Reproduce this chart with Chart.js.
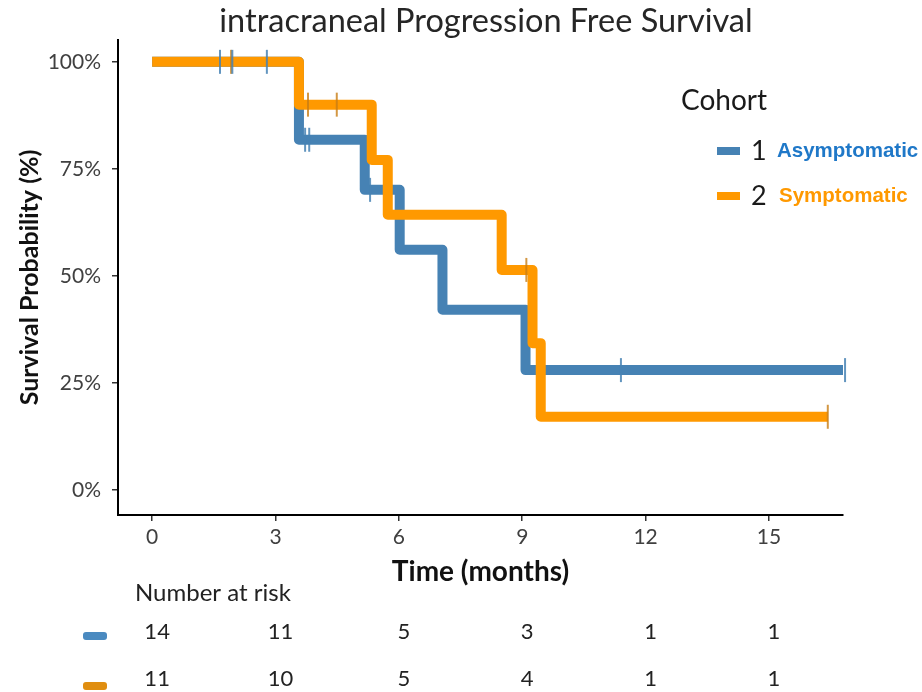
<!DOCTYPE html>
<html><head><meta charset="utf-8">
<script src="https://cdn.jsdelivr.net/npm/chart.js@4.4.1/dist/chart.umd.min.js"></script>
<style>html,body{margin:0;padding:0;background:#fff;}</style>
</head><body>
<canvas id="c" width="922" height="692"></canvas>
<script>
// ---- data ----
const titleText = 'intracraneal Progression Free Survival';
const timeTicks = [0, 3, 6, 9, 12, 15];
const survTicks = [0, 25, 50, 75, 100];
const cohortIds = ['1', '2'];
const cohortNames = ['Asymptomatic', 'Symptomatic'];
const asymTimes = [0, 3.57, 5.17, 6.02, 7.06, 9.08, 16.8];
const asymSurv  = [100, 81.8, 70.1, 56.1, 42.1, 28.0, 28.0];
const symTimes  = [0, 3.57, 5.34, 5.73, 8.5, 9.25, 9.45, 16.43];
const symSurv   = [100, 90.0, 77.1, 64.3, 51.4, 34.3, 17.1, 17.1];
const asymCensorTimes = [1.65, 1.95, 2.79, 3.72, 3.82, 5.3, 11.4, 16.85];
const asymCensorSurv  = [100, 100, 100, 81.8, 81.8, 70.1, 28.0, 28.0];
const symCensorTimes  = [1.92, 3.79, 4.49, 9.1, 16.43];
const symCensorSurv   = [100, 90.0, 90.0, 51.4, 17.1];
const atRiskAsym = [14, 11, 5, 3, 1, 1];
const atRiskSym  = [11, 10, 5, 4, 1, 1];

const BLUE = '#4682b4', ORANGE = '#ff9900';
const pts = (xs, ys) => xs.map((t, i) => ({x: t, y: ys[i]}));

const annot = {
  id: 'annot',
  afterDraw(chart) {
    const ctx = chart.ctx, xs = chart.scales.x;
    ctx.save();
    // title
    ctx.fillStyle = '#262626';
    ctx.font = '32.5px Lato';
    ctx.textAlign = 'center'; ctx.textBaseline = 'middle';
    ctx.fillText(titleText, 486, 22);
    // legend
    ctx.textAlign = 'left';
    ctx.fillStyle = '#1a1a1a';
    ctx.font = '28px Lato';
    ctx.fillText('Cohort', 681, 101);
    const legY = [151, 196];
    const legCol = [BLUE, ORANGE];
    const nameCol = ['#1f78c8', '#ff9900'];
    for (let i = 0; i < 2; i++) {
      ctx.fillStyle = legCol[i];
      ctx.fillRect(717, legY[i] - 4, 23, 8);
      ctx.fillStyle = '#1a1a1a';
      ctx.font = '27px Lato';
      ctx.fillText(cohortIds[i], 751, legY[i]);
      ctx.fillStyle = nameCol[i];
      ctx.font = 'bold 20.5px "Liberation Sans"';
      ctx.fillText(cohortNames[i], i === 0 ? 777 : 779, legY[i]);
    }
    // risk table
    ctx.fillStyle = '#222';
    ctx.font = '24px Lato';
    ctx.fillText('Number at risk', 135, 593);
    const rows = [atRiskAsym, atRiskSym];
    const rowY = [632, 679];
    const swY = [636, 686];
    const swCol = ['#4a8ac0', '#e08e10'];
    ctx.textAlign = 'center';
    ctx.font = '22px Lato';
    for (let r = 0; r < 2; r++) {
      ctx.fillStyle = swCol[r];
      ctx.beginPath();
      ctx.roundRect(83, swY[r] - 4, 24, 8, 3);
      ctx.fill();
      ctx.fillStyle = '#222';
      rows[r].forEach((n, i) => {
        ctx.fillText(String(n), xs.getPixelForValue(timeTicks[i]) + 5, rowY[r]);
      });
    }
    ctx.restore();
  }
};

new Chart(document.getElementById('c'), {
  type: 'line',
  data: {
    datasets: [
      {label: 'c1', data: pts(asymCensorTimes, asymCensorSurv), showLine: false,
       pointStyle: 'line', pointRadius: 12, pointRotation: 90, pointBorderWidth: 2,
       pointBorderColor: 'rgba(70,130,180,0.85)', pointBackgroundColor: 'rgba(70,130,180,0.85)', order: 0, clip: false},
      {label: 'c2', data: pts(symCensorTimes, symCensorSurv), showLine: false,
       pointStyle: 'line', pointRadius: 12, pointRotation: 90, pointBorderWidth: 2,
       pointBorderColor: 'rgba(200,125,20,0.8)', pointBackgroundColor: 'rgba(200,125,20,0.8)', order: 1, clip: false},
      {label: cohortNames[1], data: pts(symTimes, symSurv), stepped: 'before',
       borderColor: ORANGE, borderWidth: 10, pointRadius: 0, fill: false,
       borderJoinStyle: 'round', borderCapStyle: 'butt', order: 2, clip: false},
      {label: cohortNames[0], data: pts(asymTimes, asymSurv), stepped: 'before',
       borderColor: BLUE, borderWidth: 10, pointRadius: 0, fill: false,
       borderJoinStyle: 'round', borderCapStyle: 'butt', order: 3, clip: false}
    ]
  },
  options: {
    responsive: false, animation: false, devicePixelRatio: 1,
    layout: {padding: {left: 0, right: 79, top: 40, bottom: 102}},
    plugins: {legend: {display: false}, tooltip: {enabled: false}, title: {display: false}},
    scales: {
      x: {
        type: 'linear', min: -0.83, max: 16.8,
        afterBuildTicks: s => { s.ticks = timeTicks.map(v => ({value: v})); },
        afterFit: s => { s.height = 75; },
        grid: {display: true, drawOnChartArea: false, drawTicks: true, tickLength: 6, color: '#333', lineWidth: 1.5},
        border: {display: true, color: '#000', width: 2},
        ticks: {font: {family: 'Lato', size: 21}, color: '#404040', padding: 4, maxRotation: 0},
        title: {display: true, text: 'Time (months)', font: {family: 'Lato', size: 28, weight: 'bold'}, color: '#111', padding: {top: 0, bottom: 1}}
      },
      y: {
        type: 'linear', min: -5.84, max: 105.1,
        afterBuildTicks: s => { s.ticks = survTicks.map(v => ({value: v})); },
        afterFit: s => { s.width = 118; },
        grid: {display: true, drawOnChartArea: false, drawTicks: true, tickLength: 6, color: '#333', lineWidth: 1.5},
        border: {display: true, color: '#000', width: 2},
        ticks: {font: {family: 'Lato', size: 21}, color: '#404040', padding: 11, callback: v => v + '%'},
        title: {display: true, text: 'Survival Probability (%)', font: {family: 'Lato', size: 25, weight: 'bold'}, color: '#111', padding: {top: 15, bottom: 0}}
      }
    }
  },
  plugins: [annot]
});
</script>
</body></html>
